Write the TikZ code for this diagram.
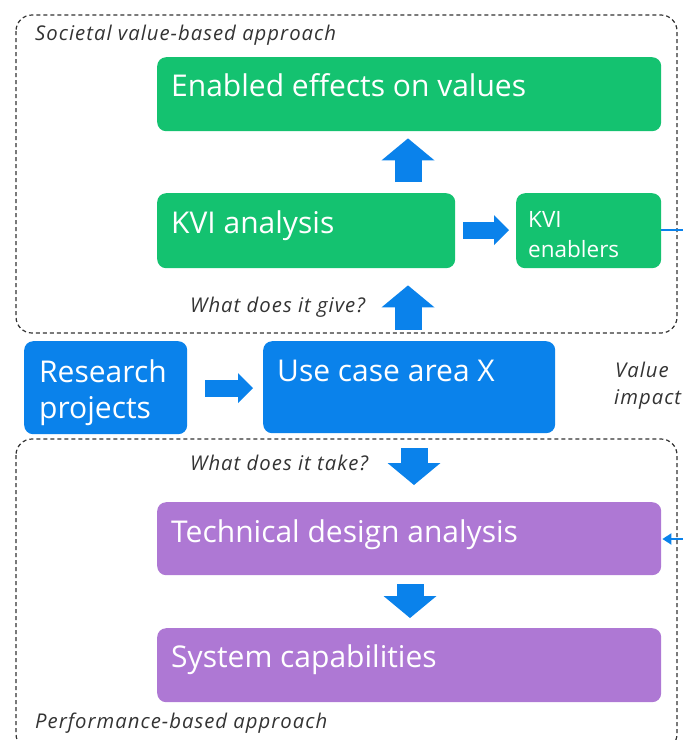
\documentclass[tikz,border=0pt]{standalone}
\usepackage{fontspec}
\setmainfont{Open Sans}
\newfontfamily\notefont[LetterSpace=5]{Open Sans}
\usetikzlibrary{arrows.meta,calc}
\definecolor{kgreen}{HTML}{14C270}
\definecolor{kblue}{HTML}{0A82EB}
\definecolor{kpurple}{HTML}{AE78D4}
\definecolor{kgray}{HTML}{333333}
\tikzset{
  box/.style={rounded corners=9pt, inner sep=0pt, anchor=north west, draw=none},
  gbox/.style={box, fill=kgreen},
  bbox/.style={box, fill=kblue},
  pbox/.style={box, fill=kpurple},
  bigtxt/.style={anchor=base west, inner sep=0pt, text=white, font=\fontsize{30}{36}\selectfont},
  midtxt/.style={anchor=base west, inner sep=0pt, text=white, align=left, font=\fontsize{22.5}{30}\selectfont},
  note/.style={anchor=base west, inner sep=0pt, text=kgray, font=\notefont\itshape\fontsize{20.3}{26}\selectfont, align=left},
  zone/.style={draw=kgray, line width=1.2pt, dash pattern=on 4pt off 3pt, rounded corners=16pt},
  vblock/.style={draw=kblue, line width=27pt, -{Triangle[width=53pt,length=22pt,line width=0pt]}},
  hblock/.style={draw=kblue, line width=17pt, -{Triangle[width=30pt,length=15pt,line width=0pt]}},
  thin/.style={draw=kblue, line width=2pt},
}
\begin{document}
\begin{tikzpicture}[x=1pt,y=-1pt]
\useasboundingbox (0,0) rectangle (683,740);
% zones
\draw[zone] (16,15) rectangle (677,333);
\draw[zone] (16,439) rectangle (677,750);
\node[note] (lsoc) at (35,40) {Societal value-based approach};
\node[note] (lperf) at (35,728) {Performance-based approach};
% boxes
\node[gbox, minimum width=504pt, minimum height=74pt] (eff) at (157,57) {};
\node[gbox, minimum width=298pt, minimum height=75pt] (kvi) at (157,193) {};
\node[gbox, minimum width=145pt, minimum height=75pt] (enab) at (516,193) {};
\node[bbox, minimum width=163pt, minimum height=93pt] (res) at (24,341) {};
\node[bbox, minimum width=292pt, minimum height=92pt] (uc) at (263,341) {};
\node[pbox, minimum width=504pt, minimum height=73pt] (tech) at (157,502) {};
\node[pbox, minimum width=504pt, minimum height=74pt] (sys) at (157,628) {};
% texts
\node[bigtxt] (teff) at (171,96) {Enabled effects on values};
\node[bigtxt] (tkvi) at (171,233) {KVI analysis};
\node[midtxt] (tenab) at (528,227) {KVI};
\node[midtxt] (tenab2) at (528,257) {enablers};
\node[bigtxt] (tres) at (39,382) {Research};
\node[bigtxt] (tres2) at (39,418) {projects};
\node[bigtxt] (tuc) at (277,381) {Use case area X};
\node[bigtxt] (ttech) at (171,542) {Technical design analysis};
\node[bigtxt] (tsys) at (171,667) {System capabilities};
\node[note] (lgive) at (190,312) {What does it give?};
\node[note] (ltake) at (190,470) {What does it take?};
\node[note] (lval) at (615,377) {Value};
\node[note] (lval2) at (614,404) {impact};
% axis helpers
\coordinate (ax1) at (408,0);
\coordinate (ax2) at (414,0);
\coordinate (ax3) at (410,0);
\coordinate (ay1) at (0,388);
\coordinate (ay2) at (0,230);
% block arrows
\draw[vblock, shorten <=11pt, shorten >=7pt] (kvi.north -| ax1) -- (eff.south -| ax1);
\draw[vblock, shorten <=11pt, shorten >=17pt] (uc.north -| ax1) -- (kvi.south -| ax1);
\draw[vblock, shorten <=15pt, shorten >=17pt] (uc.south -| ax2) -- (tech.north -| ax2);
\draw[vblock, shorten <=9pt, shorten >=10pt] (tech.south -| ax3) -- (sys.north -| ax3);
\draw[hblock, shorten <=18pt, shorten >=10pt] (res.east |- ay1) -- (uc.west |- ay1);
\draw[hblock, shorten <=8pt, shorten >=7pt] (kvi.east |- ay2) -- (enab.west |- ay2);
% value impact links
\coordinate (vout) at (683,230);
\coordinate (vin) at (683,539);
\draw[thin] (enab.east |- vout) -- (vout);
\draw[thin, -{Triangle[width=11pt,length=9pt]}, shorten >=1pt] (vin) -- (tech.east |- vin);
\end{tikzpicture}
\end{document}
